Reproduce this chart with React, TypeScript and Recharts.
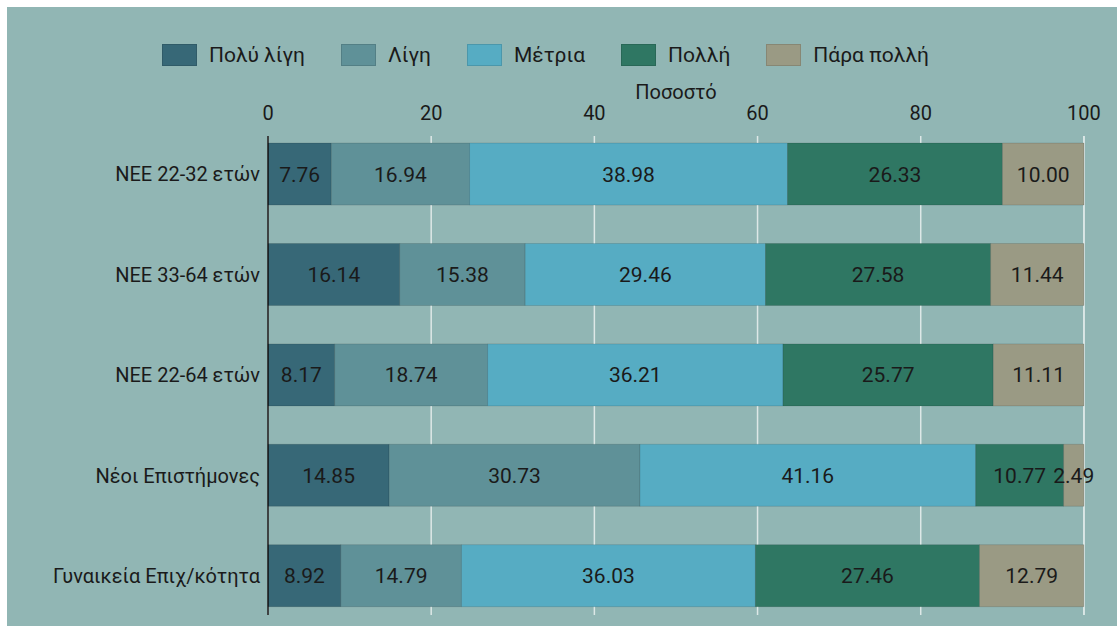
import { Bar, BarChart, CartesianGrid, Label, LabelList, Legend, XAxis, YAxis } from "recharts";

const BG = "#91b6b4";
const FONT = "Roboto, 'DejaVu Sans', sans-serif";

const categories = [
  "ΝΕΕ 22-32 ετών",
  "ΝΕΕ 33-64 ετών",
  "ΝΕΕ 22-64 ετών",
  "Νέοι Επιστήμονες",
  "Γυναικεία Επιχ/κότητα",
];

const seriesNames = ["Πολύ λίγη", "Λίγη", "Μέτρια", "Πολλή", "Πάρα πολλή"];
const seriesColors = ["#376877", "#5f9198", "#56acc3", "#2f7763", "#9a9a84"];

const polyLigi = [7.76, 16.14, 8.17, 14.85, 8.92];
const ligi = [16.94, 15.38, 18.74, 30.73, 14.79];
const metria = [38.98, 29.46, 36.21, 41.16, 36.03];
const polli = [26.33, 27.58, 25.77, 10.77, 27.46];
const paraPolli = [10.0, 11.44, 11.11, 2.49, 12.79];

const xTicks = [0, 20, 40, 60, 80, 100];

const seriesValues = [polyLigi, ligi, metria, polli, paraPolli];

const data = categories.map((name, i) => {
  const row: Record<string, string | number> = { name };
  seriesNames.forEach((s, j) => {
    row[s] = seriesValues[j][i];
  });
  return row;
});

function LegendBox() {
  return (
    <div
      style={{
        display: "flex",
        justifyContent: "center",
        alignItems: "center",
        height: 24,
        fontFamily: FONT,
        fontSize: 21,
        color: "#1a1a1a",
      }}
    >
      {seriesNames.map((s, i) => (
        <div key={s} style={{ display: "flex", alignItems: "center", marginRight: i < seriesNames.length - 1 ? 36 : 0 }}>
          <span
            style={{
              display: "inline-block",
              width: 35,
              height: 22,
              background: seriesColors[i],
              border: "1px solid rgba(0,0,0,0.12)",
              boxSizing: "border-box",
              marginRight: 12,
            }}
          />
          <span>{s}</span>
        </div>
      ))}
    </div>
  );
}

export default function App() {
  return (
    <div style={{ background: "#fff", paddingTop: 7, paddingLeft: 7, width: 1110, height: 619 }}>
      <style>{"body{margin:0;overflow:hidden}"}</style>
      <div style={{ width: 1110, height: 619, background: BG }}>
        <BarChart
          width={1110}
          height={619}
          data={data}
          layout="vertical"
          margin={{ top: 36, right: 33, bottom: 11, left: 0 }}
          barCategoryGap="19%"
        >
          <CartesianGrid horizontal={false} stroke="#dde8e7" strokeWidth={1.5} />
          <Legend verticalAlign="top" content={<LegendBox />} />
          <XAxis
            type="number"
            orientation="top"
            domain={[0, 100]}
            ticks={xTicks}
            height={69}
            axisLine={false}
            tickLine={false}
            tickMargin={10}
            tick={{ fontSize: 20, fill: "#1a1a1a", fontFamily: FONT }}
          >
            <Label
              value="Ποσοστό"
              position="insideTop"
              offset={18}
              style={{ fontSize: 20, fill: "#1a1a1a", fontFamily: FONT }}
            />
          </XAxis>
          <YAxis
            type="category"
            dataKey="name"
            width={261}
            padding={{ top: -12, bottom: -11 }}
            axisLine={{ stroke: "#111", strokeWidth: 1.5 }}
            tickLine={false}
            tick={{ fontSize: 20, fill: "#1a1a1a", fontFamily: FONT }}
          />
          {seriesNames.map((s, i) => (
            <Bar
              key={s}
              dataKey={s}
              stackId="a"
              fill={seriesColors[i]}
              stroke="rgba(0,0,0,0.12)"
              strokeWidth={1}
              isAnimationActive={false}
            >
              <LabelList
                dataKey={s}
                position="center"
                formatter={(v: number) => Number(v).toFixed(2)}
                style={{ fontSize: 21, fill: "#1a1a1a", fontFamily: FONT }}
              />
            </Bar>
          ))}
        </BarChart>
      </div>
    </div>
  );
}
